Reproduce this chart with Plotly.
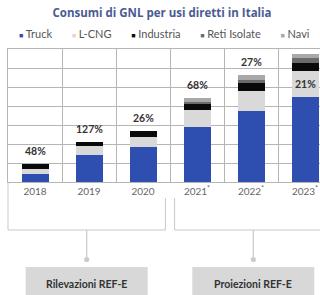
import plotly.graph_objects as go

# ---- data ----
years = ["2018", "2019", "2020", "2021", "2022", "2023"]
year_labels = ["2018", "2019", "2020", "2021<sup>*</sup>", "2022<sup>*</sup>", "2023<sup>*</sup>"]
series_names = ["Truck", "L-CNG", "Industria", "Reti Isolate", "Navi"]
truck = [8.1, 28.0, 36.5, 58.2, 74.4, 89.4]
lcng = [5.9, 9.5, 11.2, 17.7, 21.9, 27.0]
industria = [4.7, 4.8, 5.5, 6.3, 7.7, 8.5]
reti_isolate = [0.0, 0.0, 0.0, 1.7, 3.6, 5.3]
navi = [0.0, 0.0, 0.0, 4.7, 4.6, 5.0]
growth_labels = ["48%", "127%", "26%", "68%", "27%", "21%"]
groups = [("Rilevazioni REF-E", 0, 2), ("Proiezioni REF-E", 3, 5)]

colors = ["#2f4fb0", "#d9d9d9", "#0a0a0a", "#6b6b6b", "#a8a8a8"]
series = [truck, lcng, industria, reti_isolate, navi]

W, H = 320, 295
ML, MR, MT, MB = 8, 0, 49, 113
plot_w = W - ML - MR
plot_h = H - MT - MB
cat_px = 54.0
x0 = -0.5
x1 = x0 + plot_w / cat_px
ymax = 140

fig = go.Figure()
xs = list(range(len(years)))
for name, vals, col in zip(series_names, series, colors):
    fig.add_trace(go.Bar(x=xs, y=vals, name=name, marker=dict(color=col, line=dict(width=0)),
                         width=0.5, showlegend=False, hoverinfo="skip"))

totals = [sum(v) for v in zip(*series)]

# growth labels
for i, (tot, lab) in enumerate(zip(totals, growth_labels)):
    if tot + 12 > ymax:
        yy = truck[i] + lcng[i]
        fig.add_annotation(x=i, y=yy, text=f"<b>{lab}</b>", showarrow=False,
                           yanchor="top", yshift=-5,
                           font=dict(family="Lato", size=10.5, color="#333333"))
    else:
        fig.add_annotation(x=i, y=tot, text=f"<b>{lab}</b>", showarrow=False,
                           yanchor="bottom", yshift=5,
                           font=dict(family="Lato", size=10.5, color="#333333"))

# legend as text
sq = '<span style="color:{c};font-size:7px">\u25a0</span>'
parts = [sq.format(c=c) + "\u00a0" + n for n, c in zip(series_names, colors)]
legend_text = ("\u00a0" * 7).join(parts)
fig.add_annotation(xref="paper", yref="paper", x=(164 - ML) / plot_w, y=(MT + plot_h - 33) / plot_h,
                   text=legend_text, showarrow=False, xanchor="center", yanchor="middle",
                   font=dict(family="Lato", size=11, color="#555555"))

# brackets and boxes
def cat_to_paper(c):
    return (c - x0) / (x1 - x0)

def py(pxy):
    return (MT + plot_h - pxy) / plot_h

line_col = "#c9c9c9"
gap = 0.085
for gi, (gname, a, b) in enumerate(groups):
    left = a - 0.5 + (gap if gi > 0 else 0)
    right = b + 0.5 - (gap if gi < len(groups) - 1 else 0)
    lp, rp = cat_to_paper(left), cat_to_paper(right)
    mid = (lp + rp) / 2
    if gi == 0:
        fig.add_shape(type="line", xref="paper", yref="paper", x0=lp, x1=lp, y0=0, y1=py(230),
                      line=dict(color=line_col, width=1))
    else:
        fig.add_shape(type="line", xref="paper", yref="paper", x0=lp, x1=lp, y0=py(198), y1=py(230),
                      line=dict(color=line_col, width=1))
    if gi < len(groups) - 1:
        fig.add_shape(type="line", xref="paper", yref="paper", x0=rp, x1=rp, y0=py(198), y1=py(230),
                      line=dict(color=line_col, width=1))
    fig.add_shape(type="line", xref="paper", yref="paper", x0=lp, x1=rp, y0=py(230), y1=py(230),
                  line=dict(color=line_col, width=1))
    fig.add_shape(type="line", xref="paper", yref="paper", x0=mid, x1=mid, y0=py(230), y1=py(258),
                  line=dict(color=line_col, width=1.2))
    r = 2.6
    fig.add_shape(type="circle", xref="paper", yref="paper",
                  x0=mid - r / plot_w, x1=mid + r / plot_w, y0=py(259.5) - r / plot_h, y1=py(259.5) + r / plot_h,
                  fillcolor="#cccccc", line=dict(width=0))
    bw = 122 / plot_w
    fig.add_shape(type="rect", xref="paper", yref="paper", x0=mid - bw / 2, x1=mid + bw / 2,
                  y0=py(302), y1=py(267), fillcolor="#d8d8d8", line=dict(width=0))
    fig.add_annotation(xref="paper", yref="paper", x=mid, y=py(283.5), text=f"<b>{gname}</b>",
                       showarrow=False, xanchor="center", yanchor="middle",
                       font=dict(family="Lato", size=10.5, color="#333333"))

grid_col = "#b5b5b5"
fig.update_layout(
    width=W, height=H, margin=dict(l=ML, r=MR, t=MT, b=MB, autoexpand=False),
    barmode="stack", paper_bgcolor="white", plot_bgcolor="white",
    title=dict(text="<b>Consumi di GNL per usi diretti in Italia</b>", x=162 / W, xanchor="center",
               y=1 - 13 / H, yanchor="middle", yref="container",
               font=dict(family="Open Sans", size=11.5, color="#4a5b92")),
    xaxis=dict(range=[x0, x1], tickmode="array", tickvals=xs, ticktext=year_labels, automargin=False,
               showgrid=False, zeroline=False, showline=True, mirror=True, linecolor=grid_col, linewidth=1,
               ticks="", tickfont=dict(family="Lato", size=10, color="#666666"),
               minor=dict(tickmode="array", tickvals=[i - 0.5 for i in range(len(years) + 1)],
                          showgrid=True, gridcolor=grid_col, gridwidth=1, ticks="")),
    yaxis=dict(range=[0, ymax], dtick=20, showgrid=True, gridcolor=grid_col, gridwidth=1, automargin=False,
               showticklabels=False, zeroline=False, showline=True, linecolor=grid_col, ticks=""),
)

fig.write_html("out.html", config={"displayModeBar": False},
               post_script="document.body.style.margin='0';document.body.style.overflow='hidden';")
